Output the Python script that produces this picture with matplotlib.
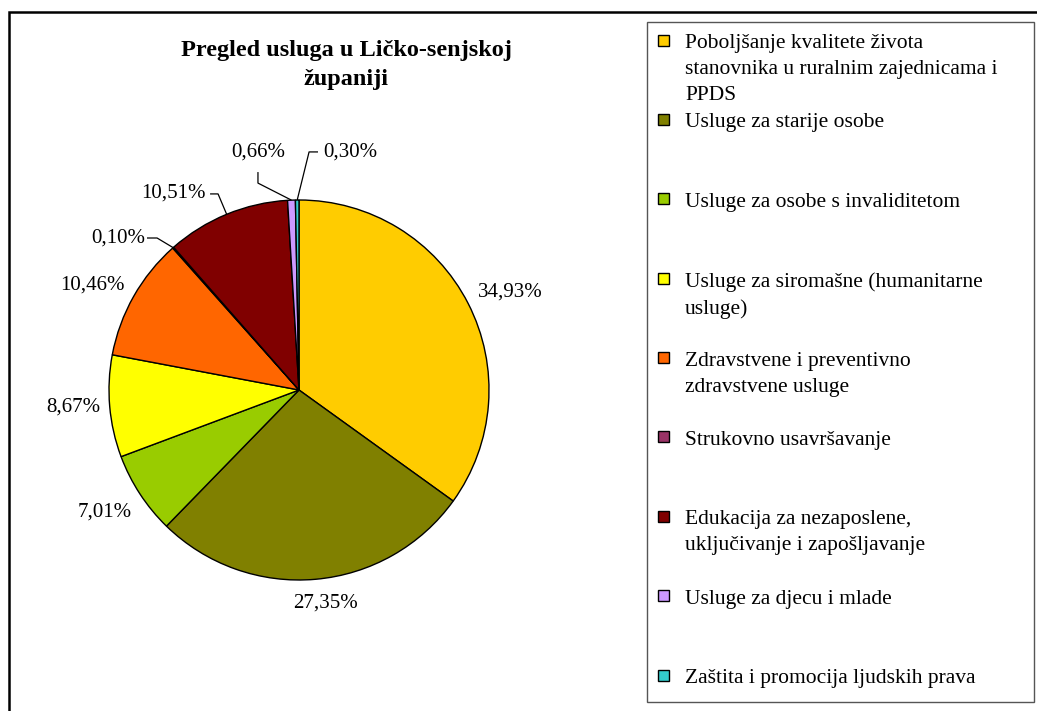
import numpy as np
import matplotlib
matplotlib.use("Agg")
import matplotlib.pyplot as plt
from matplotlib.patches import Rectangle

plt.rcParams['font.family'] = ['Liberation Serif', 'DejaVu Serif']

categories = [
    "Poboljšanje kvalitete života\nstanovnika u ruralnim zajednicama i\nPPDS",
    "Usluge za starije osobe",
    "Usluge za osobe s invaliditetom",
    "Usluge za siromašne (humanitarne\nusluge)",
    "Zdravstvene i preventivno\nzdravstvene usluge",
    "Strukovno usavršavanje",
    "Edukacija za nezaposlene,\nuključivanje i zapošljavanje",
    "Usluge za djecu i mlade",
    "Zaštita i promocija ljudskih prava",
]
values = [34.93, 27.35, 7.01, 8.67, 10.46, 0.10, 10.51, 0.66, 0.30]
colors = ["#FFCC00", "#808000", "#99CC00", "#FFFF00", "#FF6600",
          "#993366", "#800000", "#CC99FF", "#33CCCC"]
title = "Pregled usluga u Ličko-senjskoj\nžupaniji"

W, H = 1037, 711
fig = plt.figure(figsize=(W / 100, H / 100), dpi=100)

# outer chart border
fig.patches.append(Rectangle((9 / W, -0.05), 1.2, 1 - 12 / H + 0.05, transform=fig.transFigure,
                             fill=False, edgecolor="black", linewidth=1.8))

# pie axes: center at (299,390) px, radius 190 px
half = 280
ax = fig.add_axes([(299 - half) / W, (H - 390 - half) / H, 2 * half / W, 2 * half / H])

wedges, _ = ax.pie(values, colors=colors, startangle=90, counterclock=False, radius=1,
                   wedgeprops=dict(edgecolor="black", linewidth=1.0))
lim = half / 190
ax.set_xlim(-lim, lim)
ax.set_ylim(-lim, lim)
ax.set_aspect("equal")
ax.axis("off")

def fmt(v):
    return f"{v:.2f}".replace(".", ",") + "%"

def edge(w):
    a = np.deg2rad((w.theta1 + w.theta2) / 2)
    return np.cos(a), np.sin(a)

fs = 15
# plain labels (no leaders)
plain_pos = {0: (1.111, 0.516), 1: (0.137, -1.120), 2: (-1.021, -0.642),
             3: (-1.189, -0.090), 4: (-1.089, 0.553)}
for i, (x, y) in plain_pos.items():
    ax.text(x, y, fmt(values[i]), ha="center", va="center", fontsize=fs)

# labels with leader lines: text pos, leader start, elbow
lead = {
    5: ((-0.953, 0.80), (-0.80, 0.80), (-0.747, 0.80)),
    6: ((-0.663, 1.037), (-0.468, 1.032), (-0.426, 1.032)),
    7: ((-0.216, 1.253), (-0.216, 1.147), (-0.216, 1.089)),
    8: ((0.268, 1.253), (0.10, 1.253), (0.053, 1.253)),
}
for i, (tp, s, e) in lead.items():
    ax.text(tp[0], tp[1], fmt(values[i]), ha="center", va="center", fontsize=fs)
    ex, ey = edge(wedges[i])
    ax.plot([s[0], e[0], ex], [s[1], e[1], ey], color="black", linewidth=0.9,
            solid_capstyle="butt")

# title
fig.text(346 / W, 1 - 65 / H, title, ha="center", va="center", fontsize=17.5,
         fontweight="bold", linespacing=1.5)

# legend box
fig.patches.append(Rectangle((647 / W, 1 - 702 / H), (1034 - 647) / W, (702 - 22) / H,
                             transform=fig.transFigure, fill=False,
                             edgecolor="#555555", linewidth=1.0))
y0, step = 40, 79.4
for i, (lab, c) in enumerate(zip(categories, colors)):
    yc = y0 + i * step
    fig.patches.append(Rectangle((658 / W, 1 - (yc + 5.5) / H), 11 / W, 11 / H,
                                 transform=fig.transFigure, facecolor=c,
                                 edgecolor="black", linewidth=1.0))
    fig.text(685 / W, 1 - (yc - 6) / H, lab, ha="left", va="top", fontsize=15.5,
             linespacing=1.5)

fig.savefig("out.png", dpi=100)
